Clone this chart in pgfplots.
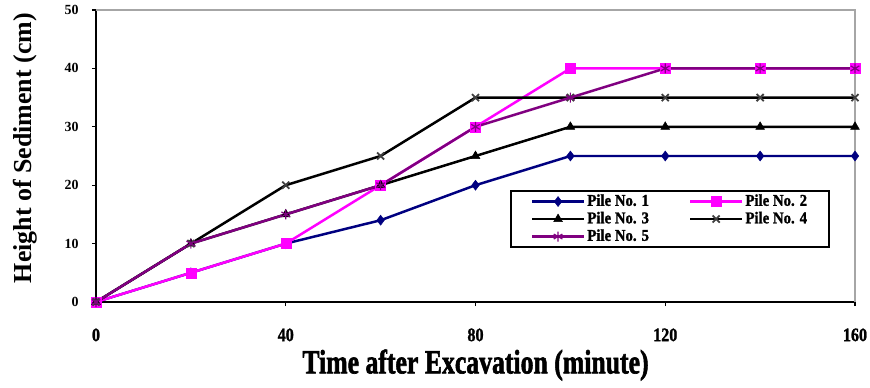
\documentclass[border=0pt]{standalone}
\usepackage{fontspec}
\setmainfont{Liberation Serif}
\usepackage{graphicx}
\usepackage{pgfplots}
\pgfplotsset{compat=1.18}
\usetikzlibrary{calc}
\definecolor{pnavy}{RGB}{0,0,128}
\definecolor{pmag}{RGB}{255,0,255}
\definecolor{ppurp}{RGB}{128,0,128}
\definecolor{pgrey}{RGB}{64,64,64}
\newcommand{\leg}[1]{\scalebox{0.9}[1]{#1}}
\begin{document}
\begin{tikzpicture}
\begin{axis}[
  scale only axis,
  width=759bp, height=292bp,
  xmin=0, xmax=160, ymin=0, ymax=50,
  xtick={0,40,80,120,160}, ytick={0,10,20,30,40,50},
  axis line style={line width=1.8pt},
  axis x line*=bottom, axis y line*=left,
  tick align=outside, major tick length=4bp,
  tick style={black, line width=1.4pt},
  xticklabel={\scalebox{0.85}[1]{\pgfmathprintnumber{\tick}}},
  xticklabel style={font=\fontsize{19}{19}\selectfont\bfseries\addfontfeature{FakeBold=1.5}, yshift=-19bp},
  yticklabel style={font=\fontsize{14}{14}\selectfont\bfseries, xshift=-10bp},
  /pgf/number format/assume math mode=true,
  xlabel={\scalebox{0.76}[1]{Time after Excavation (minute)}},
  ylabel={Height of Sediment (cm)},
  xlabel style={font=\fontsize{34}{34}\selectfont\bfseries\addfontfeature{FakeBold=2}, at={(axis description cs:0.5,-0.216)}, anchor=center},
  ylabel style={font=\fontsize{26}{26}\selectfont\bfseries, at={(axis description cs:-0.0935,0.527)}, anchor=center},
  clip=false,
  legend columns=2,
  legend cell align=left,
  legend style={at={(rel axis cs:0.5455,0.3836)}, anchor=north west,
    draw=black, line width=1.6pt, font=\fontsize{16.5}{16.5}\selectfont\bfseries\addfontfeature{FakeBold=1.5},
    inner xsep=20bp, inner ysep=2bp, row sep=0bp,
    nodes={inner ysep=1bp, text height=12bp, text depth=3.5bp},
    /tikz/every even column/.append style={column sep=38bp}},
  legend image code/.code={
    \draw[#1, line width=2.5pt] (0bp,0bp) -- (52bp,0bp);
    \draw[#1, mark repeat=2, mark phase=2] plot coordinates {(0bp,0bp) (26bp,0bp) (52bp,0bp)};
  },
  every axis plot/.append style={line width=2.5pt},
]
\addplot[pnavy, mark=diamond*, mark size=5bp, mark options={solid, line width=0.5pt}] coordinates {(0,0) (20,5) (40,10) (60,14) (80,20) (100,25) (120,25) (140,25) (160,25)};
\addlegendentry{\leg{Pile No. 1}}
\addplot[pmag, mark=square*, mark size=5bp, mark options={solid, line width=0.5pt}] coordinates {(0,0) (20,5) (40,10) (60,20) (80,30) (100,40) (120,40) (140,40) (160,40)};
\addlegendentry{\leg{Pile No. 2}}
\addplot[black, mark=triangle*, mark size=5bp, mark options={solid, line width=0.5pt}] coordinates {(0,0) (20,10) (40,15) (60,20) (80,25) (100,30) (120,30) (140,30) (160,30)};
\addlegendentry{\leg{Pile No. 3}}
\addplot[black, mark=x, mark size=5bp, mark options={pgrey, solid, line width=1.8pt}] coordinates {(0,0) (20,10) (40,20) (60,25) (80,35) (100,35) (120,35) (140,35) (160,35)};
\addlegendentry{\leg{Pile No. 4}}
\addplot[ppurp, mark=asterisk, mark size=5bp, mark options={solid, line width=1.2pt}] coordinates {(0,0) (20,10) (40,15) (60,20) (80,30) (100,35) (120,40) (140,40) (160,40)};
\addlegendentry{\leg{Pile No. 5}}
\draw[gray!70, line width=1.8pt] (rel axis cs:0,1) -- (rel axis cs:1,1) -- (rel axis cs:1,0);
\end{axis}
\pgfresetboundingbox
\path ($(current axis.south west)+(-96bp,-86bp)$) rectangle ($(current axis.north east)+(15bp,10bp)$);
\end{tikzpicture}
\end{document}
